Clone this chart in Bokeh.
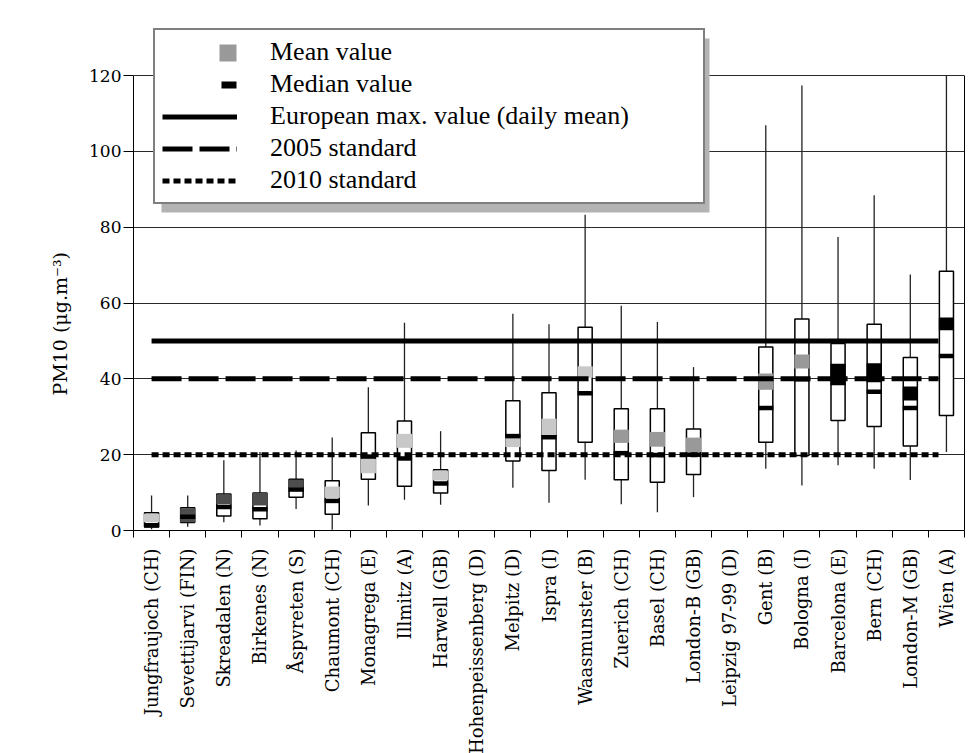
import math
from bokeh.plotting import figure
from bokeh.models import (ColumnDataSource, Range1d, FixedTicker, Legend,
                          LegendItem, BoxAnnotation, LinearAxis, Title)
from bokeh.embed import file_html
from bokeh.resources import INLINE

# ---------------- data ----------------
stations = ["Jungfraujoch (CH)", "Sevettijarvi (FIN)", "Skreadalen (N)", "Birkenes (N)",
            "Åspvreten (S)", "Chaumont (CH)", "Monagrega (E)", "Illmitz (A)",
            "Harwell (GB)", "Hohenpeissenberg (D)", "Melpitz (D)", "Ispra (I)",
            "Waasmunster (B)", "Zuerich (CH)", "Basel (CH)", "London-B (GB)",
            "Leipzig 97-99 (D)", "Gent (B)", "Bologna (I)", "Barcelona (E)",
            "Bern (CH)", "London-M (GB)", "Wien (A)"]

whisker_low = [0.3, 1.0, 2.2, 1.3, 5.7, 0.2, 6.6, 8.1, 6.8, None, 11.3, 7.3,
               13.4, 6.9, 4.8, 8.8, None, 16.3, 11.9, 17.2, 16.3, 13.3, 20.7]
q1 = [0.9, 2.1, 3.8, 3.1, 8.8, 4.3, 13.5, 11.7, 9.9, None, 18.3, 15.8,
      23.3, 13.4, 12.7, 14.8, None, 23.3, 19.8, 29.0, 27.4, 22.3, 30.3]
median = [1.4, 3.6, 6.2, 5.6, 10.8, 7.8, 19.5, 19.0, 12.4, None, 24.9, 24.6,
          36.2, 20.4, 19.9, 20.0, None, 32.3, 39.9, 40.0, 36.6, 32.3, 46.0]
q3 = [4.7, 6.0, 9.6, 9.9, 13.5, 13.1, 25.8, 28.9, 16.0, None, 34.2, 36.3,
      53.6, 32.1, 32.1, 26.8, None, 48.4, 55.8, 49.3, 54.4, 45.6, 68.4]
whisker_high = [9.2, 9.2, 18.5, 20.7, 21.1, 24.5, 37.8, 54.8, 26.2, None, 57.2, 54.4,
                83.3, 59.3, 55.0, 43.1, None, 106.9, 117.4, 77.4, 88.4, 67.5, 120.0]
mean_low = [2.2, 2.2, 6.9, 6.6, 11.3, 8.6, 15.1, 21.8, 13.2, None, 22.0, 25.2,
            40.3, 23.1, 22.1, 20.7, None, 37.1, 42.7, 38.3, 39.1, 34.3, 52.8]
mean_high = [4.4, 5.9, 9.5, 9.9, 13.4, 11.6, 18.9, 25.5, 15.8, None, 24.5, 29.5,
             43.3, 26.6, 26.0, 24.5, None, 41.4, 46.4, 44.0, 44.1, 38.0, 56.2]
mean_group = ["light", "dark", "dark", "dark", "dark", "light", "light", "light",
              "light", None, "light", "light", "light", "mid", "mid", "mid", None,
              "mid", "mid", "black", "black", "black", "black"]

limit_values = [50, 40, 20]
limit_labels = ["European max. value (daily mean)", "2005 standard", "2010 standard"]
y_ticks = [0, 20, 40, 60, 80, 100, 120]
y_title = "PM10 (μg.m⁻³)"

# ---------------- styles ----------------
shade = {"light": "#c8c8c8", "mid": "#999999", "dark": "#4d4d4d", "black": "#000000"}
SERIF = "DejaVu Serif"
Y_TOP = 136.1   # frame extends above 120 to make room for the legend

n = len(stations)
idx = [i for i in range(n) if median[i] is not None]
src = ColumnDataSource(dict(
    x=idx,
    lo=[whisker_low[i] for i in idx],
    q1=[q1[i] for i in idx],
    med=[median[i] for i in idx],
    q3=[q3[i] for i in idx],
    hi=[whisker_high[i] for i in idx],
    mlo=[mean_low[i] for i in idx],
    mhi=[mean_high[i] for i in idx],
    mcol=[shade[mean_group[i]] for i in idx],
))

p = figure(frame_width=831, frame_height=516,
           x_range=Range1d(-0.5, n - 0.5), y_range=Range1d(0, Y_TOP),
           output_backend="svg", toolbar_location=None,
           min_border_left=133, min_border_top=14, min_border_right=6, min_border_bottom=0)
p.outline_line_color = None
p.background_fill_color = "white"
p.border_fill_color = "white"

# grid
p.xgrid.visible = False
p.ygrid.ticker = FixedTicker(ticks=y_ticks)
p.ygrid.grid_line_color = "#2a2a2a"
p.ygrid.grid_line_width = 1

# y axis
p.yaxis.bounds = (y_ticks[0], y_ticks[-1])
p.yaxis.ticker = FixedTicker(ticks=y_ticks)
p.yaxis.major_label_text_font = SERIF
p.yaxis.major_label_text_font_size = "17px"
p.yaxis.major_label_text_color = "black"
p.yaxis.major_tick_out = 10
p.yaxis.major_tick_in = 0
p.yaxis.minor_tick_out = 0
p.yaxis.minor_tick_in = 0
p.yaxis.major_label_standoff = 2
p.yaxis.axis_line_color = "black"
p.yaxis.major_tick_line_color = "black"

# y axis title, placed beside the 0..120 part of the axis
ttl = Title(text=y_title, align="left", offset=135, standoff=32,
            text_font=SERIF, text_font_size="19px", text_font_style="normal",
            text_color="black")
p.add_layout(ttl, "left")

# right border drawn as a bare axis
right = LinearAxis(bounds=(y_ticks[0], y_ticks[-1]), ticker=FixedTicker(ticks=[]),
                   major_tick_out=0, major_tick_in=0, minor_tick_out=0, minor_tick_in=0,
                   major_label_standoff=0, major_label_text_font_size="0px",
                   axis_line_color="black", axis_line_width=1)
p.add_layout(right, "right")

# x axis
p.xaxis.ticker = FixedTicker(ticks=list(range(n)), minor_ticks=[i + 0.5 for i in range(-1, n)])
p.xaxis.major_label_overrides = {i: s for i, s in enumerate(stations)}
p.xaxis.major_label_orientation = math.pi / 2
p.xaxis.major_label_text_font = SERIF
p.xaxis.major_label_text_font_size = "18px"
p.xaxis.major_label_text_color = "black"
p.xaxis.major_tick_out = 0
p.xaxis.major_tick_in = 0
p.xaxis.minor_tick_out = 7
p.xaxis.minor_tick_in = 0
p.xaxis.minor_tick_line_color = "black"
p.xaxis.major_label_standoff = 11
p.xaxis.axis_line_color = "black"

# boxes
p.segment(x0="x", y0="lo", x1="x", y1="hi", source=src, line_color="#222222", line_width=1.3)
p.vbar(x="x", width=0.39, bottom="q1", top="q3", source=src,
       fill_color="white", line_color="black", line_width=1.5)
p.vbar(x="x", width=0.42, bottom="mlo", top="mhi", source=src,
       fill_color="mcol", line_color=None)
p.rect(x="x", y="med", width=0.42, height=4.5, height_units="screen", source=src,
       fill_color="black", line_color=None)

# limit lines
x_line = [0, n - 1.22]
r_eu = p.line(x_line, [limit_values[0]] * 2, line_color="black", line_width=5)
r_05 = p.line(x_line, [limit_values[1]] * 2, line_color="black", line_width=5, line_dash="30 7")
r_10 = p.line(x_line, [limit_values[2]] * 2, line_color="black", line_width=5, line_dash="7 4")

# hidden proxies that only supply the legend symbols (a dash pattern leaves one block
# at the right end of the legend's glyph area)
r_mean = p.line(x="x", y="mlo", source=src, line_color="#999999", line_width=17,
                line_dash="0 57 17 60", visible=False)
r_med = p.line(x="x", y="med", source=src, line_color="black", line_width=7,
               line_dash="0 59 15 60", visible=False)

shadow = BoxAnnotation(left=161, right=709, top=38, bottom=212,
                       left_units="canvas", right_units="canvas",
                       top_units="canvas", bottom_units="canvas",
                       fill_color="#b3b3b3", fill_alpha=1, line_color=None)
p.add_layout(shadow)

legend = Legend(items=[
    LegendItem(label="Mean value", renderers=[r_mean]),
    LegendItem(label="Median value", renderers=[r_med]),
    LegendItem(label=limit_labels[0], renderers=[r_eu]),
    LegendItem(label=limit_labels[1], renderers=[r_05]),
    LegendItem(label=limit_labels[2], renderers=[r_10]),
], location=(20, 326), padding=7, spacing=2, glyph_width=75, glyph_height=29,
    label_standoff=33, label_width=426, label_height=29,
    label_text_font="Liberation Serif", label_text_font_size="26px",
    label_text_color="black", border_line_color="black", border_line_width=2,
    background_fill_color="white", background_fill_alpha=1, margin=0,
    inactive_fill_alpha=0, click_policy="none")
p.add_layout(legend)

open("out.html", "w").write(file_html(p, INLINE))
